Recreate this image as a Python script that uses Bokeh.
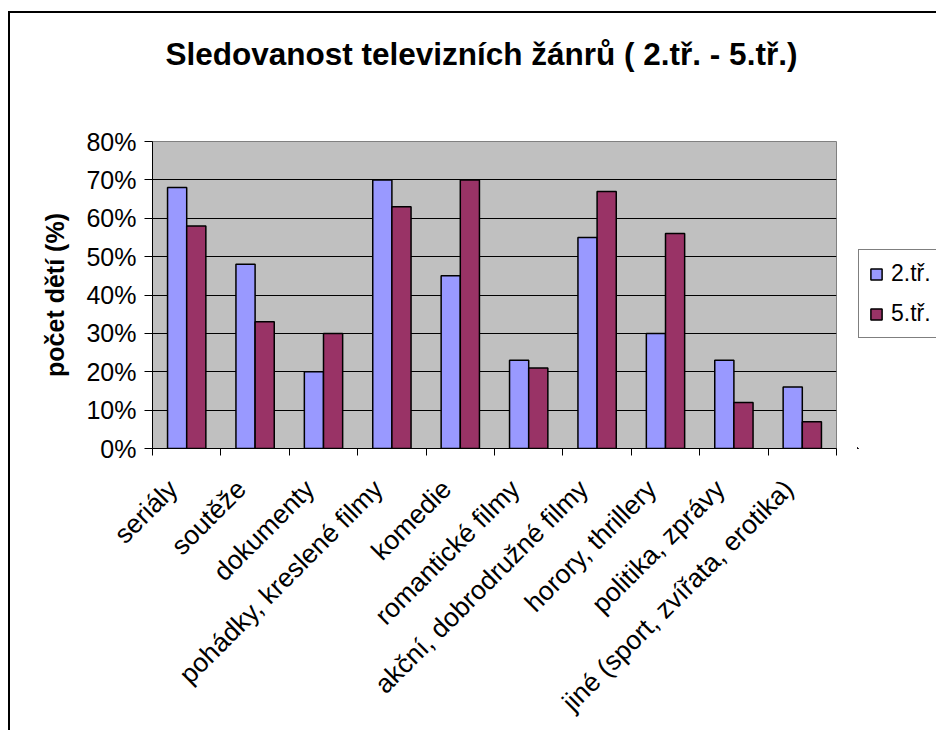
import numpy as np
from bokeh.plotting import figure
from bokeh.layouts import row
from bokeh.models import (Range1d, FixedTicker, NumeralTickFormatter, ColumnDataSource,
                          Legend, LegendItem, Title)
from bokeh.embed import file_html
from bokeh.resources import INLINE
import math

categories = ["seriály", "soutěže", "dokumenty", "pohádky, kreslené filmy", "komedie",
              "romantické filmy", "akční, dobrodružné filmy", "horory, thrillery",
              "politika, zprávy", "jiné (sport, zvířata, erotika)"]
series_names = ["2.tř.", "5.tř."]
values_2 = [0.68, 0.48, 0.20, 0.70, 0.45, 0.23, 0.55, 0.30, 0.23, 0.16]
values_5 = [0.58, 0.33, 0.30, 0.63, 0.70, 0.21, 0.67, 0.56, 0.12, 0.07]
y_ticks = [0.0, 0.1, 0.2, 0.3, 0.4, 0.5, 0.6, 0.7, 0.8]
colors = ["#9999FF", "#993366"]

FONT = "Liberation Sans"
n = len(categories)
centers = [i + 0.5 for i in range(n)]
label_pos = [c - 0.2 for c in centers]   # anchor of the slanted labels
bw = 0.28

# main chart: content starts at page (10, 13) after the CSS margin + border of the row
W, H = 847, 717
p = figure(width=W, height=H, output_backend="svg", toolbar_location=None,
           x_range=Range1d(0, n), y_range=Range1d(0, 0.8),
           min_border_left=142, min_border_right=W - 826, min_border_top=128,
           min_border_bottom=H - 436)

p.background_fill_color = "#C0C0C0"
p.border_fill_color = "white"
p.outline_line_color = "#808080"
p.outline_line_width = 1

src = ColumnDataSource(dict(x2=[c - bw / 2 for c in centers], x5=[c + bw / 2 for c in centers],
                            v2=values_2, v5=values_5))
p.vbar(x="x2", top="v2", width=bw, source=src, fill_color=colors[0], line_color="black",
       line_width=1.5)
p.vbar(x="x5", top="v5", width=bw, source=src, fill_color=colors[1], line_color="black",
       line_width=1.5)

# grid
p.xgrid.grid_line_color = None
p.ygrid.grid_line_color = "black"
p.ygrid.grid_line_width = 1
p.ygrid.ticker = FixedTicker(ticks=y_ticks)

# y axis
ya = p.yaxis[0]
ya.ticker = FixedTicker(ticks=y_ticks)
ya.formatter = NumeralTickFormatter(format="0%")
ya.major_label_text_font = FONT
ya.major_label_text_font_size = "25px"
ya.major_label_text_color = "black"
ya.major_tick_out = 8
ya.major_tick_in = 0
ya.minor_tick_line_color = None
ya.axis_line_color = "black"
ya.major_tick_line_color = "black"
ya.major_label_standoff = 8
ya.axis_label = "počet dětí (%)"
ya.axis_label_text_font = FONT
ya.axis_label_text_font_size = "25px"
ya.axis_label_text_font_style = "bold"
ya.axis_label_text_color = "black"
ya.axis_label_standoff = 14

# x axis
xa = p.xaxis[0]
xa.ticker = FixedTicker(ticks=label_pos, minor_ticks=list(range(n + 1)))
xa.major_label_overrides = {c: lab for c, lab in zip(label_pos, categories)}
xa.major_label_orientation = math.pi / 4
xa.major_label_text_font = FONT
xa.major_label_text_font_size = "26.5px"
xa.major_label_text_color = "black"
xa.major_tick_out = 0
xa.major_tick_in = 0
xa.minor_tick_out = 7
xa.minor_tick_in = 0
xa.minor_tick_line_color = "black"
xa.axis_line_color = "black"
xa.major_label_standoff = 29

# spacer between the frame and the title
p.add_layout(Title(text=" ", text_font_size="1px", standoff=67), "above")

# title
p.title.text = "Sledovanost televizních žánrů ( 2.tř. - 5.tř.)"
p.title.text_font = FONT
p.title.text_font_size = "31.5px"
p.title.text_font_style = "bold"
p.title.text_color = "black"
p.title.align = "left"
p.title.offset = 13
p.title.standoff = 0

# legend panel (cut off by the window edge, as in the reference);
# its frame is aligned by the row with the main chart's frame
q = figure(width=79, height=H, output_backend="svg", toolbar_location=None,
           x_range=Range1d(100, 101), y_range=Range1d(100, 101),
           x_axis_location=None, y_axis_location=None,
           min_border_left=0, min_border_right=0, min_border_top=0, min_border_bottom=0)
q.grid.grid_line_color = None
q.outline_line_color = None
q.background_fill_color = "white"
q.border_fill_color = "white"
# legend-only copies of the two series (outside this panel's ranges, so only the legend shows)
l2 = q.vbar(x="x2", top="v2", width=bw, source=src, fill_color=colors[0], line_color="black",
            line_width=1.5)
l5 = q.vbar(x="x5", top="v5", width=bw, source=src, fill_color=colors[1], line_color="black",
            line_width=1.5)
lg = Legend(items=[LegendItem(label=series_names[0], renderers=[l2]),
                   LegendItem(label=series_names[1], renderers=[l5])],
            location=(1, 110))
lg.label_text_font = FONT
lg.label_text_font_size = "23px"
lg.label_text_color = "black"
lg.glyph_width = 14
lg.glyph_height = 14
lg.label_height = 26
lg.spacing = 13
lg.padding = 10
lg.margin = 0
lg.label_standoff = 8
lg.border_line_color = "black"
lg.border_line_width = 1
lg.background_fill_color = "white"
lg.background_fill_alpha = 1
q.add_layout(lg, "center")

layout = row(p, q, spacing=0)
layout.styles = {"margin-left": "8px", "margin-top": "11px",
                 "border-left": "2px solid black", "border-top": "2px solid black"}

open("out.html", "w").write(file_html(layout, INLINE))
